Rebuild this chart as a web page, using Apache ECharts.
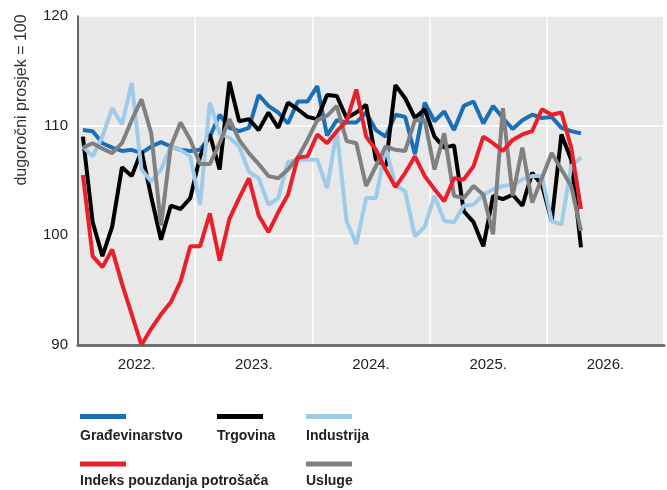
<!DOCTYPE html>
<html>
<head>
<meta charset="utf-8">
<script src="https://cdn.jsdelivr.net/npm/echarts@6/dist/echarts.min.js"></script>
<style>
  html, body { margin: 0; padding: 0; background: #fff; }
  #chart { width: 667px; height: 490px; }
</style>
</head>
<body>
<div id="chart"></div>
<script>
// godine na osi x (mjesečni podaci, 12 točaka po godini)
const yearLabels = ['2022.', '2023.', '2024.', '2025.', '2026.'];
const yTicks = [90, 100, 110, 120];

const gradjevinarstvo = [109.6, 109.5, 108.4, 108.0, 107.7, 107.8, 107.5, 108.1, 108.5, 108.1,
  107.8, 107.7, 107.8, 109.0, 111.0, 109.8, 109.5, 109.8, 112.8, 111.8,
  111.2, 110.2, 112.2, 112.2, 113.6, 109.1, 110.5, 110.3, 110.3, 111.2,
  109.6, 109.0, 111.0, 110.8, 107.4, 112.1, 110.4, 111.3, 109.6, 111.8,
  112.2, 110.2, 111.8, 110.7, 109.7, 110.5, 111.0, 110.7, 110.8, 109.8,
  109.5, 109.3];
const trgovina = [109.0, 101.2, 98.1, 100.8, 106.2, 105.4, 107.7, 103.5, 99.6, 102.7,
  102.4, 103.4, 107.2, 109.2, 106.0, 114.0, 110.4, 110.6, 109.6, 111.2,
  109.8, 112.1, 111.5, 110.8, 110.6, 112.8, 112.7, 110.7, 111.2, 111.9,
  106.9, 106.3, 113.7, 112.5, 110.7, 111.5, 109.0, 108.0, 108.2, 102.2,
  101.2, 99.0, 103.6, 103.3, 103.7, 102.7, 105.7, 104.6, 101.3, 109.2,
  106.9, 98.9];
const industrija = [108.1, 107.2, 109.0, 111.6, 110.1, 113.9, 106.0, 104.9, 106.0, 108.1,
  107.8, 107.2, 102.8, 112.1, 109.3, 108.9, 108.1, 105.8, 105.2, 102.8,
  103.4, 106.7, 106.9, 106.9, 106.9, 104.3, 109.5, 101.3, 99.2, 103.4,
  103.4, 108.0, 104.6, 104.0, 99.9, 100.8, 103.6, 101.3, 101.2, 102.7,
  102.8, 103.7, 104.2, 104.5, 104.6, 105.1, 105.4, 105.4, 101.3, 101.0,
  106.3, 107.1];
const potrosaci = [105.5, 98.1, 97.1, 98.7, 95.6, 92.8, 90.0, 91.5, 92.8, 93.9,
  95.8, 99.0, 99.0, 102.0, 97.7, 101.5, 103.4, 105.2, 101.8, 100.3,
  102.1, 103.7, 107.1, 107.2, 109.2, 108.4, 109.5, 110.4, 113.3, 109.0,
  107.8, 106.0, 104.4, 105.7, 107.2, 105.4, 104.2, 103.1, 105.2, 105.1,
  106.3, 109.0, 108.4, 107.7, 108.7, 109.2, 109.5, 111.5, 111.0, 111.2,
  108.0, 102.4];
const usluge = [108.0, 108.4, 107.9, 107.5, 108.4, 110.5, 112.4, 109.3, 100.9, 108.1,
  110.3, 108.7, 106.5, 106.5, 108.4, 110.6, 108.7, 107.5, 106.5, 105.4,
  105.2, 106.0, 107.1, 108.7, 110.5, 110.9, 111.8, 108.6, 108.4, 104.5,
  106.3, 108.1, 107.8, 107.7, 110.5, 110.5, 106.0, 109.3, 103.6, 103.4,
  104.5, 103.7, 100.1, 111.6, 103.6, 108.0, 103.0, 105.2, 107.5, 106.0,
  104.5, 100.4];

const FONT = '"Liberation Sans", Arial, sans-serif';

// redoslijed crtanja: crvena na vrhu
const lines = [
  { name: 'Građevinarstvo', color: '#1b6fb7', values: gradjevinarstvo, lx: 80, row: 0 },
  { name: 'Trgovina', color: '#000000', values: trgovina, lx: 217, row: 0 },
  { name: 'Industrija', color: '#9fcbeb', values: industrija, lx: 306, row: 0 },
  { name: 'Usluge', color: '#808080', values: usluge, lx: 306, row: 1 },
  { name: 'Indeks pouzdanja potrošača', color: '#e8202a', values: potrosaci, lx: 80, row: 1 }
];
const rowTop = [414, 461.5];
const textTop = [429, 474];

let chart = echarts.init(document.getElementById('chart'));

chart.setOption({
  animation: false,
  grid: {
    left: 78,
    right: 0,
    top: 16,
    bottom: 145,
    show: true,
    backgroundColor: '#e8e8e8',
    borderWidth: 0
  },
  xAxis: [{
    type: 'value',
    min: 0,
    max: yearLabels.length * 12,
    interval: 12,
    axisLine: { lineStyle: { color: '#707070', width: 3 } },
    axisTick: { show: false },
    axisLabel: { show: false },
    splitLine: { show: true, lineStyle: { color: '#ffffff', width: 1.5 } }
  }, {
    type: 'value',
    position: 'bottom',
    min: 0,
    max: yearLabels.length * 12,
    interval: 6,
    axisLine: { show: false },
    axisTick: { show: false },
    splitLine: { show: false },
    axisLabel: {
      margin: 12,
      color: '#222',
      fontSize: 15,
      fontFamily: FONT,
      formatter: function(v) {
        return v % 12 === 6 ? yearLabels[(v - 6) / 12] : '';
      }
    }
  }],
  yAxis: {
    type: 'value',
    min: yTicks[0],
    max: yTicks[yTicks.length - 1],
    interval: 10,
    axisLine: { show: true, lineStyle: { color: '#333', width: 1.5 } },
    axisTick: { show: false },
    axisLabel: { margin: 10, color: '#222', fontSize: 15, fontFamily: FONT },
    splitLine: { show: true, lineStyle: { color: '#ffffff', width: 1.5 } }
  },
  legend: lines.map(l => ({
    data: [l.name],
    left: l.lx,
    top: rowTop[l.row],
    padding: 0,
    icon: 'rect',
    itemWidth: 46,
    itemHeight: 5,
    selectedMode: false,
    formatter: () => ''
  })),
  graphic: [{
    type: 'text',
    x: 22,
    y: 100,
    rotation: Math.PI / 2,
    style: {
      text: 'dugoročni prosjek = 100',
      align: 'center',
      verticalAlign: 'middle',
      fontSize: 16,
      fontFamily: FONT,
      fill: '#333'
    }
  }].concat(lines.map(l => ({
    type: 'text',
    left: l.lx,
    top: textTop[l.row],
    style: {
      text: l.name,
      fontSize: 14,
      fontWeight: 'bold',
      fontFamily: FONT,
      fill: '#222'
    }
  }))),
  series: lines.map(l => ({
    name: l.name,
    type: 'line',
    xAxisIndex: 0,
    symbol: 'none',
    color: l.color,
    lineStyle: { width: 4, color: l.color },
    data: l.values.map((v, i) => [i + 0.5, v])
  }))
});
</script>
</body>
</html>
